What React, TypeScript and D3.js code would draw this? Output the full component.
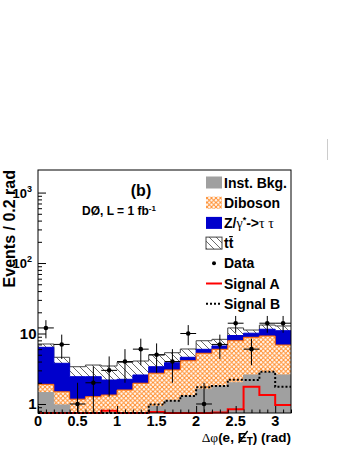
import { useEffect, useRef } from "react";
import * as d3 from "d3";

// bin lower edges, 0.2 rad wide
const binLow = [0, 0.2, 0.4, 0.6, 0.8, 1.0, 1.2, 1.4, 1.6, 1.8, 2.0, 2.2, 2.4, 2.6, 2.8, 3.0];
const binWidth = 0.2;

// stacked backgrounds (per-process contributions)
const instBkg = [1.45, 0.97, 0.3, 0.3, 0.3, 0.35, 0.5, 0.92, 1.11, 1.3, 1.62, 1.8, 2.0, 2.58, 2.78, 2.58];
const diboson = [0.45, 0.52, 0.87, 0.97, 1.04, 1.23, 1.47, 1.81, 1.93, 2.81, 3.62, 4.17, 5.9, 6.25, 6.44, 4.29];
const ztautau = [4.47, 2.29, 1.27, 1.17, 0.85, 0.66, 0.61, 0.65, 0.81, 0.49, 0.73, 0.68, 1.47, 1.27, 2.28, 4.09];
const ttbar = [0.73, 0.82, 0.94, 1.13, 1.27, 1.66, 1.49, 1.57, 1.49, 1.43, 1.93, 1.62, 2.63, 1.1, 1.7, 1.84];

const dataCounts = [12, 7, 1, 2, 3, 4, 6, 5, 4, 10, 1, 7, 14, 6, 14, 14];

const signalA = [0.5, 0.5, 0.5, 0.5, 0.8, 0.5, 0.5, 0.77, 0.5, 0.5, 0.5, 0.76, 0.84, 1.76, 1.34, 0.97];
const signalB = [0.5, 0.5, 0.5, 0.5, 0.5, 0.5, 0.5, 0.98, 1.11, 1.3, 1.73, 1.8, 2.2, 2.19, 2.87, 1.76];

const xTicks = [0, 0.5, 1, 1.5, 2, 2.5, 3];
const xTickLabels = ["0", "0.5", "1", "1.5", "2", "2.5", "3"];
const yTicks = [1, 10, 100, 1000];
const yTickExp = ["", "", "2", "3"];

const FONT = "'Liberation Sans', Arial, Helvetica, sans-serif";
const GREEK = "'Liberation Serif', 'DejaVu Serif', serif";

const App = () => {
  const ref = useRef<SVGSVGElement>(null);

  useEffect(() => {
    const svg = d3.select(ref.current);
    svg.selectAll("*").remove();

    const left = 38, right = 291, top = 170, bottom = 413;
    const x = d3.scaleLinear().domain([0, 3.2]).range([left, right]);
    const y = d3.scaleLog().domain([0.745, 2090]).range([bottom, top]).clamp(true);

    const defs = svg.append("defs");
    const dib = defs.append("pattern").attr("id", "dibPat")
      .attr("patternUnits", "userSpaceOnUse").attr("width", 4.5).attr("height", 4.5);
    dib.append("rect").attr("width", 4.5).attr("height", 4.5).attr("fill", "#fff");
    dib.append("path").attr("d", "M0,0L4.5,4.5M4.5,0L0,4.5")
      .attr("stroke", "#ff8c2a").attr("stroke-width", 1);
    const tt = defs.append("pattern").attr("id", "ttPat")
      .attr("patternUnits", "userSpaceOnUse").attr("width", 7).attr("height", 7);
    tt.append("rect").attr("width", 7).attr("height", 7).attr("fill", "#fff");
    tt.append("path").attr("d", "M0,0L7,7M-1,6L1,8M6,-1L8,1")
      .attr("stroke", "#444").attr("stroke-width", 0.8);

    svg.append("rect").attr("width", 349).attr("height", 451).attr("fill", "#fff");

    const rows = binLow.map((b, i) => ({
      x0: b, inst: instBkg[i], dib: diboson[i], z: ztautau[i], tt: ttbar[i],
    }));
    const stacked = d3.stack<any>().keys(["inst", "dib", "z", "tt"])(rows);

    const steps = (vals: number[]) =>
      binLow.flatMap((b, i) => [[b, vals[i]], [b + binWidth, vals[i]]] as [number, number][]);

    const area = d3.area<[number, number]>()
      .x(d => x(d[0])).y0(bottom).y1(d => y(d[1]));
    const line = d3.line<[number, number]>()
      .x(d => x(d[0])).y(d => y(d[1]));

    const styles: Record<string, { fill: string; stroke: string }> = {
      tt: { fill: "url(#ttPat)", stroke: "#444" },
      z: { fill: "#0000cc", stroke: "#0000cc" },
      dib: { fill: "url(#dibPat)", stroke: "#ff6a00" },
      inst: { fill: "#a0a0a0", stroke: "#a0a0a0" },
    };

    [...stacked].reverse().forEach(s => {
      const tops = s.map(d => d[1]);
      const pts = steps(tops);
      svg.append("path").datum(pts).attr("d", area)
        .attr("fill", styles[s.key].fill);
      svg.append("path").datum(pts).attr("d", line)
        .attr("fill", "none").attr("stroke", styles[s.key].stroke).attr("stroke-width", 1);
    });

    // signals
    svg.append("path").datum(steps(signalA)).attr("d", line)
      .attr("fill", "none").attr("stroke", "#ff0000").attr("stroke-width", 2);
    svg.append("path").datum(steps(signalB)).attr("d", line)
      .attr("fill", "none").attr("stroke", "#000").attr("stroke-width", 2)
      .attr("stroke-dasharray", "2,2");

    // data
    const g = svg.append("g");
    dataCounts.forEach((n, i) => {
      const cx = x(binLow[i] + binWidth / 2);
      const e = Math.sqrt(n);
      g.append("line").attr("x1", cx).attr("x2", cx)
        .attr("y1", y(n + e)).attr("y2", y(Math.max(n - e, 0.5)))
        .attr("stroke", "#000").attr("stroke-width", 1);
      g.append("line").attr("x1", x(binLow[i])).attr("x2", x(binLow[i] + binWidth))
        .attr("y1", y(n)).attr("y2", y(n))
        .attr("stroke", "#000").attr("stroke-width", 1);
      g.append("circle").attr("cx", cx).attr("cy", y(n)).attr("r", 2.3).attr("fill", "#000");
    });

    // frame
    svg.append("rect").attr("x", left).attr("y", top)
      .attr("width", right - left).attr("height", bottom - top)
      .attr("fill", "none").attr("stroke", "#000").attr("stroke-width", 1);

    // x axis ticks
    const xMinor = d3.range(0, 33).map(k => k / 10).filter(v => Math.round(v * 10) % 5 !== 0);
    const xAx = svg.append("g").attr("transform", `translate(0,${bottom})`);
    xAx.call(d3.axisBottom(x).tickValues(xTicks).tickSize(-7).tickFormat(() => ""));
    xAx.append("g").call(d3.axisBottom(x).tickValues(xMinor).tickSize(-3.5).tickFormat(() => ""));
    xAx.selectAll(".domain").remove();
    xAx.selectAll("line").attr("stroke", "#000");

    xTicks.forEach((t, i) => {
      svg.append("text").attr("x", x(t)).attr("y", 426)
        .attr("text-anchor", "middle").attr("font-family", FONT).attr("font-weight", "bold")
        .attr("font-size", 14.5).text(xTickLabels[i]);
    });

    // y axis ticks
    const yMinor: number[] = [0.8, 0.9];
    [1, 10, 100].forEach(dec => d3.range(2, 10).forEach(m => yMinor.push(m * dec)));
    const yAx = svg.append("g").attr("transform", `translate(${left},0)`);
    yAx.call(d3.axisLeft(y).tickValues(yTicks).tickSize(-8).tickFormat(() => ""));
    yAx.append("g").call(d3.axisLeft(y).tickValues(yMinor).tickSize(-4).tickFormat(() => ""));
    yAx.selectAll(".domain").remove();
    yAx.selectAll("line").attr("stroke", "#000");

    yTicks.forEach((t, i) => {
      const yy = y(t);
      if (yTickExp[i] === "") {
        svg.append("text").attr("x", 36.5).attr("y", yy + 5.5)
          .attr("text-anchor", "end").attr("font-family", FONT).attr("font-weight", "bold")
          .attr("font-size", 15).text(t === 1 ? "1" : "10");
      } else {
        const tx = svg.append("text").attr("x", 32).attr("y", yy + 5)
          .attr("text-anchor", "end").attr("font-family", FONT).attr("font-weight", "bold")
          .attr("font-size", 13);
        tx.append("tspan").text("10");
        tx.append("tspan").attr("dy", -6).attr("font-size", 9).text(yTickExp[i]);
      }
    });

    // axis titles
    svg.append("text")
      .attr("transform", `translate(15,${top}) rotate(-90)`)
      .attr("text-anchor", "end").attr("font-family", FONT).attr("font-weight", "bold")
      .attr("font-size", 16).text("Events / 0.2 rad");

    const xt = svg.append("text").attr("x", right).attr("y", 442)
      .attr("text-anchor", "end").attr("font-family", FONT).attr("font-weight", "bold")
      .attr("font-size", 13.5);
    xt.append("tspan").attr("font-family", GREEK).attr("font-weight", "normal").text("Δφ");
    xt.append("tspan").text("(e, E");
    xt.append("tspan").attr("dy", 3).attr("font-size", 10).text("T");
    xt.append("tspan").attr("dy", -3).text(") (rad)");
    const xtNode = xt.node() as SVGTextElement;
    const eBox = xtNode.getExtentOfChar(6);
    svg.append("line")
      .attr("x1", eBox.x + 1).attr("y1", eBox.y + eBox.height - 2)
      .attr("x2", eBox.x + eBox.width + 1).attr("y2", eBox.y + 1)
      .attr("stroke", "#000").attr("stroke-width", 1.4);

    // annotations
    svg.append("text").attr("x", 141).attr("y", 196).attr("text-anchor", "middle")
      .attr("font-family", FONT).attr("font-weight", "bold").attr("font-size", 16).text("(b)");
    const lum = svg.append("text").attr("x", 82).attr("y", 215)
      .attr("font-family", FONT).attr("font-weight", "bold").attr("font-size", 12);
    lum.append("tspan").text("DØ, L = 1 fb");
    lum.append("tspan").attr("dy", -4.5).attr("font-size", 8).text("-1");

    // legend
    const lx = 206, ly0 = 182.5, dy = 20.2, tx0 = 224;
    const legText = (i: number) => svg.append("text").attr("x", tx0).attr("y", ly0 + i * dy + 5)
      .attr("font-family", FONT).attr("font-weight", "bold").attr("font-size", 14);
    const box = (i: number, fill: string, stroke = "none") =>
      svg.append("rect").attr("x", lx).attr("y", ly0 + i * dy - 6).attr("width", 16).attr("height", 12)
        .attr("fill", fill).attr("stroke", stroke);

    box(0, "#a0a0a0");
    legText(0).text("Inst. Bkg.");
    box(1, "url(#dibPat)");
    legText(1).text("Diboson");
    box(2, "#0000cc");
    const zt = legText(2);
    zt.append("tspan").text("Z/");
    zt.append("tspan").attr("font-family", GREEK).attr("font-weight", "normal").text("γ");
    zt.append("tspan").attr("dy", -5).attr("font-size", 9).text("*");
    zt.append("tspan").attr("dy", 5).text("->");
    zt.append("tspan").attr("font-family", GREEK).attr("font-weight", "normal").text("τ τ");
    box(3, "url(#ttPat)", "#444");
    const ttText = legText(3).text("tt");
    const t2 = (ttText.node() as SVGTextElement).getExtentOfChar(1);
    svg.append("line").attr("x1", t2.x + 0.5).attr("x2", t2.x + t2.width - 0.5)
      .attr("y1", t2.y + 1.5).attr("y2", t2.y + 1.5).attr("stroke", "#000").attr("stroke-width", 1.2);
    svg.append("circle").attr("cx", lx + 8).attr("cy", ly0 + 4 * dy).attr("r", 2).attr("fill", "#000");
    legText(4).text("Data");
    svg.append("line").attr("x1", lx).attr("x2", lx + 16)
      .attr("y1", ly0 + 5 * dy).attr("y2", ly0 + 5 * dy).attr("stroke", "#ff0000").attr("stroke-width", 2);
    legText(5).text("Signal A");
    svg.append("line").attr("x1", lx).attr("x2", lx + 16)
      .attr("y1", ly0 + 6 * dy).attr("y2", ly0 + 6 * dy).attr("stroke", "#000").attr("stroke-width", 2)
      .attr("stroke-dasharray", "2,2");
    legText(6).text("Signal B");

    // stray mark at right edge of canvas
    svg.append("line").attr("x1", 327.5).attr("x2", 327.5).attr("y1", 139).attr("y2", 160)
      .attr("stroke", "#ccc").attr("stroke-width", 1);
  }, []);

  return (
    <svg ref={ref} width={349} height={451}
      style={{ position: "absolute", left: 0, top: 0, display: "block" }} />
  );
};

export default App;
